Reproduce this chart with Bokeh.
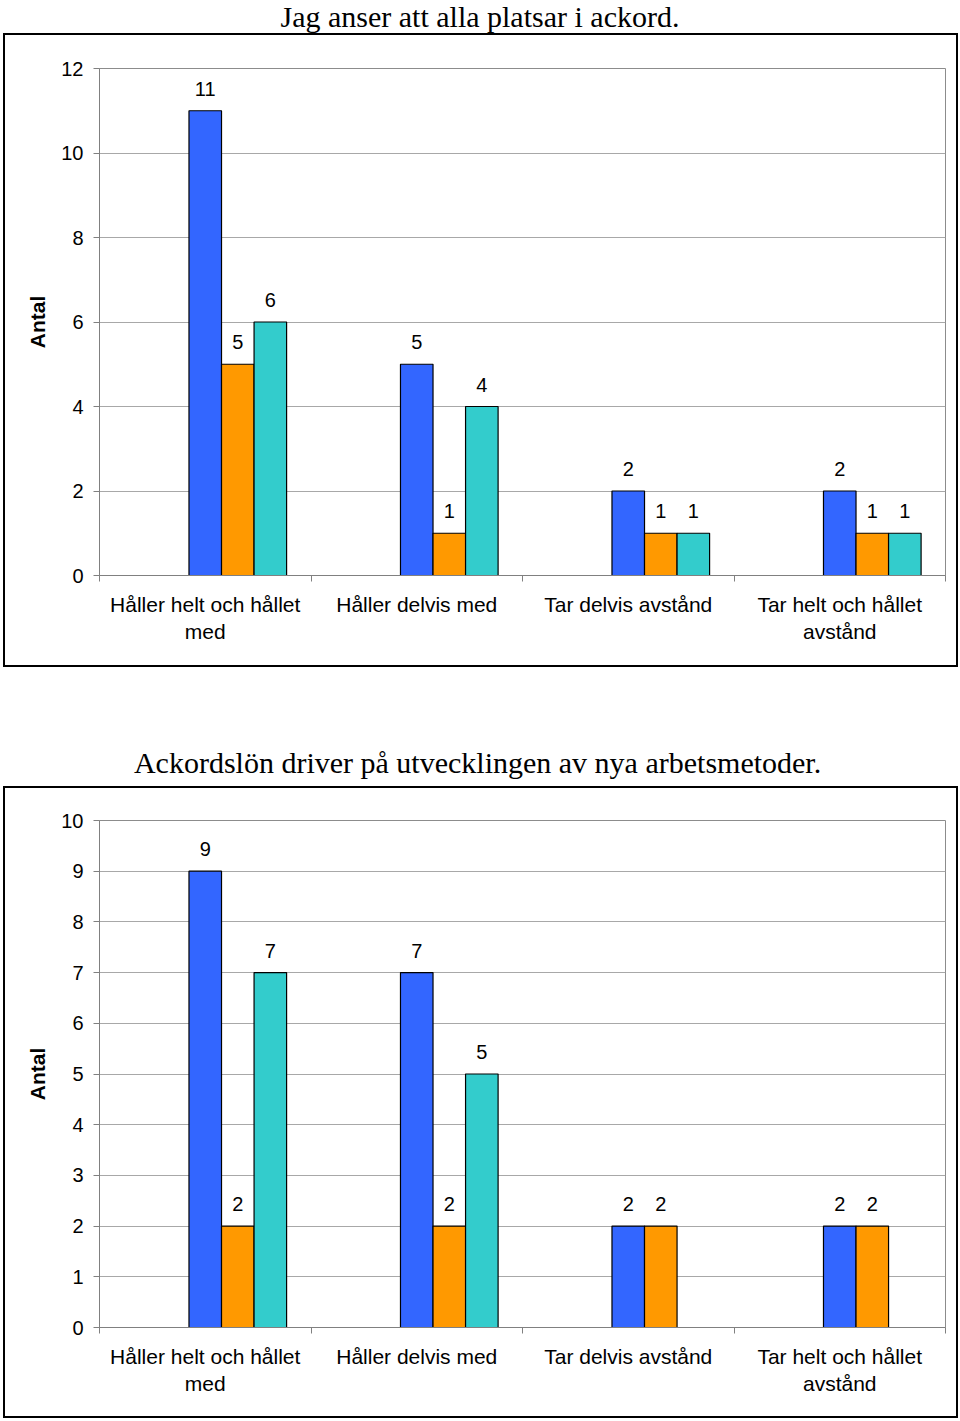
import numpy as np
from bokeh.plotting import figure
from bokeh.models import ColumnDataSource, FixedTicker, Range1d
from bokeh.layouts import column
from bokeh.embed import file_html
from bokeh.resources import INLINE
from bokeh.core.properties import value

# ---------------- data ----------------
categories = ["Håller helt och hållet\nmed", "Håller delvis med",
              "Tar delvis avstånd", "Tar helt och hållet\navstånd"]
series_names = ["Serie 1", "Serie 2", "Serie 3"]

chart1_title = "Jag anser att alla platsar i ackord."
chart1_blue = [11, 5, 2, 2]
chart1_orange = [5, 1, 1, 1]
chart1_teal = [6, 4, 1, 1]
chart1_yticks = [0, 2, 4, 6, 8, 10, 12]

chart2_title = "Ackordslön driver på utvecklingen av nya arbetsmetoder."
chart2_blue = [9, 7, 2, 2]
chart2_orange = [2, 2, 2, 2]
chart2_teal = [7, 5, None, None]
chart2_yticks = [0, 1, 2, 3, 4, 5, 6, 7, 8, 9, 10]

y_label = "Antal"

# ---------------- styles ----------------
COLORS = ["#3366FF", "#FF9900", "#33CCCC"]
SANS = "Liberation Sans"
SERIF = "Liberation Serif"
PAGE_W = 960
CW = 951            # chart canvas width (inside the black box)
FRAME_L = 94        # plot-area left inside chart canvas
FRAME_R = 940       # plot-area right inside chart canvas
CHART_X = 5         # chart canvas left on the page
BAR_W = 1 / 6.5
OFFSETS = [0.0, BAR_W, 2 * BAR_W]


def title_strip(text, height, xpos, ypos):
    # the column aligns this strip's frame with the charts' plot areas,
    # so its x range is expressed in page pixels of that aligned frame
    t = figure(width=PAGE_W, height=height,
               x_range=Range1d(CHART_X + FRAME_L, CHART_X + FRAME_R),
               y_range=Range1d(height, 0), output_backend="svg", title=None,
               toolbar_location=None, x_axis_location=None,
               y_axis_location=None, min_border=0)
    t.outline_line_color = None
    t.grid.visible = False
    t.background_fill_color = "white"
    t.border_fill_color = "white"
    t.text(x=[xpos], y=[ypos], text=[text], text_align="left",
           text_baseline="alphabetic", text_font=value(SERIF),
           text_font_size="30px", text_color="black")
    return t


def make_chart(series, yticks, height, frame_top, frame_bottom, margin):
    ymax = yticks[-1]
    p = figure(width=CW, height=height, x_range=Range1d(0, len(categories)),
               y_range=Range1d(0, ymax), output_backend="svg",
               toolbar_location=None,
               min_border_left=FRAME_L, min_border_right=CW - FRAME_R,
               min_border_top=frame_top, min_border_bottom=height - frame_bottom)
    p.margin = margin
    p.styles = {"outline": "2px solid black"}
    p.background_fill_color = "white"
    p.border_fill_color = "white"
    p.outline_line_color = "#8c8c8c"
    p.outline_line_width = 1

    centers = np.arange(len(categories)) + 0.5
    bounds = np.arange(len(categories) + 1).astype(float)

    for vals, name, color, off in zip(series, series_names, COLORS, OFFSETS):
        tops = np.array([np.nan if v is None else v for v in vals], dtype=float)
        src = ColumnDataSource(dict(x=centers + off, top=tops, cat=categories))
        p.vbar(x="x", top="top", bottom=0, width=BAR_W, source=src,
               fill_color=color, line_color="black", line_width=1.2)
        keep = ~np.isnan(tops)
        lab = ColumnDataSource(dict(x=(centers + off)[keep], y=tops[keep],
                                    t=[str(int(v)) for v in tops[keep]]))
        p.text(x="x", y="y", text="t", source=lab, text_align="center",
               text_baseline="alphabetic", y_offset=-22,
               text_font=value(SANS), text_font_size="20px", text_color="black")

    # y axis
    yax = p.yaxis[0]
    yax.ticker = FixedTicker(ticks=yticks)
    yax.major_tick_out = 6
    yax.major_tick_in = 0
    yax.minor_tick_line_color = None
    yax.major_tick_line_color = "#808080"
    yax.axis_line_color = "#808080"
    yax.major_label_standoff = 10
    yax.major_label_text_font = SANS
    yax.major_label_text_font_size = "20px"
    yax.major_label_text_color = "black"
    yax.axis_label = y_label
    yax.axis_label_text_font = SANS
    yax.axis_label_text_font_style = "bold"
    yax.axis_label_text_font_size = "21px"
    yax.axis_label_text_color = "black"
    yax.axis_label_standoff = 9

    # x axis (labels at group centres, tick marks at group boundaries)
    xax = p.xaxis[0]
    xax.ticker = FixedTicker(ticks=list(centers), minor_ticks=list(bounds))
    xax.major_label_overrides = {float(c): cat for c, cat in zip(centers, categories)}
    xax.major_tick_out = 0
    xax.major_tick_in = 0
    xax.major_tick_line_color = None
    xax.minor_tick_out = 6
    xax.minor_tick_in = 0
    xax.minor_tick_line_color = "#808080"
    xax.axis_line_color = "#808080"
    xax.major_label_standoff = 11
    xax.major_label_text_font = SANS
    xax.major_label_text_font_size = "21px"
    xax.major_label_text_color = "black"
    xax.major_label_text_line_height = 1.2

    p.xgrid.visible = False
    p.ygrid.ticker = FixedTicker(ticks=yticks)
    p.ygrid.grid_line_color = "#a8a8a8"
    p.ygrid.grid_line_width = 1
    return p


t1 = title_strip(chart1_title, 35, 283, 16)
p1 = make_chart([chart1_blue, chart1_orange, chart1_teal], chart1_yticks,
                height=630, frame_top=33, frame_bottom=540,
                margin=(0, 0, 2, CHART_X))
t2 = title_strip(chart2_title, 119, 138, 95)
p2 = make_chart([chart2_blue, chart2_orange, chart2_teal], chart2_yticks,
                height=628, frame_top=32, frame_bottom=539,
                margin=(2, 0, 2, CHART_X))

layout = column(t1, p1, t2, p2, spacing=0)
open("out.html", "w").write(file_html(layout, INLINE))
